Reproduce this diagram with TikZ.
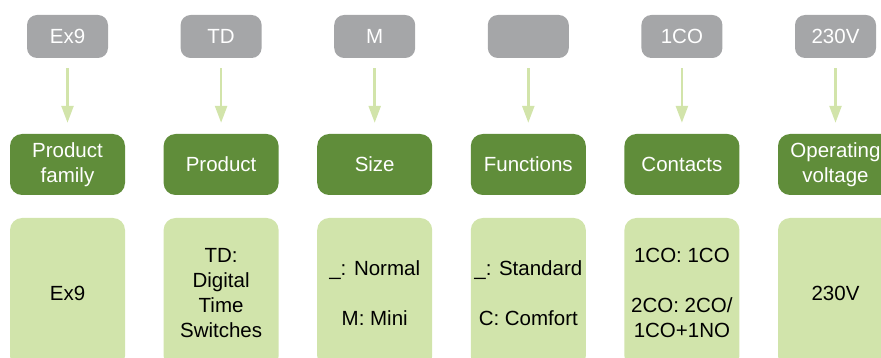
\documentclass[tikz,border=0pt]{standalone}
\usepackage{fontspec}
\setmainfont{Liberation Sans}
\usepackage{tikz}
\usetikzlibrary{arrows.meta,positioning}

\definecolor{codegray}{RGB}{165,166,168}
\definecolor{fielddark}{RGB}{96,141,58}
\definecolor{fieldlight}{RGB}{209,228,171}
\definecolor{linkgreen}{RGB}{210,228,170}

\begin{document}
\begin{tikzpicture}[node distance=153.6pt]
  \tikzstyle{every node}=[font=\fontsize{20.5pt}{25pt}\selectfont,align=center]
  \tikzstyle{code}=[fill=codegray,text=white,rounded corners=10pt,minimum width=81pt,minimum height=43pt]
  \tikzstyle{field}=[fill=fielddark,text=white,rounded corners=12pt,minimum width=115pt,minimum height=61pt,node distance=128pt]
  \tikzstyle{option}=[fill=fieldlight,text=black,rounded corners=12pt,minimum width=115pt,minimum height=150pt,node distance=128.5pt]
  \tikzstyle{link}=[draw=linkgreen,fill=linkgreen,line width=2.5pt,shorten <=10pt,shorten >=11pt,-{Triangle[width'=12pt,length=17pt]}]
  \clip (0pt,0pt) rectangle (881pt,-358pt);

  \node[code]   (c_fam)  at (67.5pt,-36.5pt)  {Ex9};
  \node[code]   (c_prod) [right of=c_fam]     {TD};
  \node[code]   (c_size) [right of=c_prod]    {M};
  \node[code]   (c_fun)  [right of=c_size]    {};
  \node[code]   (c_con)  [right of=c_fun]     {1CO};
  \node[code]   (c_volt) [right of=c_con]     {230V};

  \node[field]  (f_fam)  [below of=c_fam]     {Product\\family};
  \node[field]  (f_prod) [below of=c_prod]    {Product};
  \node[field]  (f_size) [below of=c_size]    {Size};
  \node[field]  (f_fun)  [below of=c_fun]     {Functions};
  \node[field]  (f_con)  [below of=c_con]     {Contacts};
  \node[field]  (f_volt) [below of=c_volt]    {Operating\\voltage};

  \node[option] (o_fam)  [below of=f_fam]     {Ex9};
  \node[option] (o_prod) [below of=f_prod]    {TD:\\Digital\\Time\\Switches};
  \node[option] (o_size) [below of=f_size]    {\_: Normal\\[25pt]M: Mini};
  \node[option] (o_fun)  [below of=f_fun]     {\_: Standard\\[25pt]C: Comfort};
  \node[option] (o_con)  [below of=f_con]     {1CO: 1CO\\[25pt]2CO: 2CO/\\1CO+1NO};
  \node[option] (o_volt) [below of=f_volt]    {230V};

  \draw[link] (c_fam)  -- (f_fam);
  \draw[link] (c_prod) -- (f_prod);
  \draw[link] (c_size) -- (f_size);
  \draw[link] (c_fun)  -- (f_fun);
  \draw[link] (c_con)  -- (f_con);
  \draw[link] (c_volt) -- (f_volt);
\end{tikzpicture}
\end{document}
